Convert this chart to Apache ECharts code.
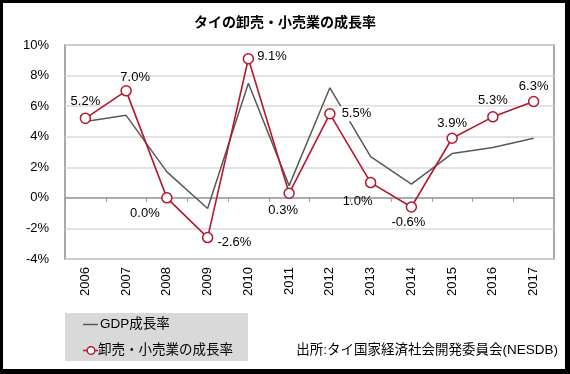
<!DOCTYPE html>
<html>
<head>
<meta charset="utf-8">
<script src="https://cdn.jsdelivr.net/npm/echarts@6/dist/echarts.min.js"></script>
<style>
html,body{margin:0;padding:0;background:#fff;}
#wrap{position:relative;width:570px;height:374px;}
#chart{position:absolute;left:0;top:0;width:570px;height:374px;}
#frame{position:absolute;left:0;top:0;width:570px;height:374px;box-sizing:border-box;border-style:solid;border-color:#000;border-width:3px 5px 5px 3px;pointer-events:none;}
</style>
</head>
<body>
<div id="wrap"><div id="chart"></div><div id="frame"></div></div>
<script>
const years = ['2006','2007','2008','2009','2010','2011','2012','2013','2014','2015','2016','2017'];
const gdpGrowth = [5.0, 5.4, 1.7, -0.7, 7.5, 0.8, 7.2, 2.7, 0.9, 2.9, 3.3, 3.9];
const retailGrowth = [5.2, 7.0, 0.0, -2.6, 9.1, 0.3, 5.5, 1.0, -0.6, 3.9, 5.3, 6.3];
const yTicks = {min: -4, max: 10, step: 2};

const titleText = 'タイの卸売・小売業の成長率';
const gdpName = 'GDP成長率';
const retailName = '卸売・小売業の成長率';
const sourceText = '出所:タイ国家経済社会開発委員会(NESDB)';

const FONT = "'Liberation Sans', Arial, 'Noto Sans CJK JP', sans-serif";
const RED = '#b4182d';
const GREY = '#595959';

// label placement styles per point (styling only)
const labelStyles = [
  {position:'top', distance:5, offset:[0,0]},
  {position:'top', distance:1, offset:[9,0]},
  {position:'bottom', distance:3, offset:[-22,0]},
  {position:'right', distance:4, offset:[0,5]},
  {position:'right', distance:3, offset:[0,-2]},
  {position:'bottom', distance:5, offset:[-6,0]},
  {position:'right', distance:4, offset:[0,0], backgroundColor:'#fff', padding:[1,2,1,2]},
  {position:'bottom', distance:7, offset:[-13,0]},
  {position:'bottom', distance:3, offset:[-3,0]},
  {position:'top', distance:3, offset:[0,0]},
  {position:'top', distance:4, offset:[0,0]},
  {position:'top', distance:3, offset:[0,0]}
];

const retailData = retailGrowth.map((v, i) => ({
  value: v,
  label: Object.assign({}, labelStyles[i])
}));

const chart = echarts.init(document.getElementById('chart'), null, {renderer:'canvas'});
chart.setOption({
  animation: false,
  backgroundColor: '#fff',
  textStyle: {fontFamily: FONT},
  title: {
    text: titleText,
    left: 'center',
    top: 11,
    textStyle: {fontSize: 14, fontWeight: 'bold', color: '#000', fontFamily: FONT}
  },
  grid: {
    left: 65, top: 45, right: 16, bottom: 115,
    show: true, borderColor: '#a9a9a9', borderWidth: 2, backgroundColor: 'transparent'
  },
  xAxis: [
    {
      type: 'category',
      data: years,
      boundaryGap: true,
      axisLine: {onZero: true, lineStyle: {color: '#999', width: 1.5}},
      axisTick: {show: true, length: 4, lineStyle: {color: '#999'}},
      axisLabel: {show: false},
      splitLine: {show: false}
    },
    {
      type: 'category',
      data: years,
      position: 'bottom',
      boundaryGap: true,
      axisLine: {show: false, onZero: false},
      axisTick: {show: false},
      axisLabel: {rotate: 90, margin: 8, fontSize: 13, color: '#000', fontFamily: FONT},
      splitLine: {show: false}
    }
  ],
  yAxis: {
    type: 'value',
    min: yTicks.min, max: yTicks.max, interval: yTicks.step,
    axisLine: {show: false},
    axisTick: {show: false},
    axisLabel: {formatter: '{value}%', fontSize: 13, color: '#000', margin: 16, fontFamily: FONT},
    splitLine: {lineStyle: {color: '#d9d9d9', width: 1.5}}
  },
  series: [
    {
      name: gdpName,
      type: 'line',
      data: gdpGrowth,
      symbol: 'none',
      lineStyle: {color: GREY, width: 1.5},
      itemStyle: {color: GREY},
      z: 2
    },
    {
      name: retailName,
      type: 'line',
      data: retailData,
      symbol: 'circle',
      symbolSize: 10,
      lineStyle: {color: RED, width: 1.6},
      itemStyle: {color: '#fff', borderColor: RED, borderWidth: 1.5},
      label: {
        show: true,
        formatter: p => p.value.toFixed(1) + '%',
        fontSize: 13,
        color: '#000',
        fontFamily: FONT
      },
      z: 3
    }
  ],
  graphic: [
    {
      type: 'group',
      left: 65, top: 313,
      children: [
        {type: 'rect', shape: {x: 0, y: 0, width: 183, height: 48}, style: {fill: '#d9d9d9'}},
        {type: 'line', shape: {x1: 18, y1: 11.5, x2: 33, y2: 11.5}, style: {stroke: GREY, lineWidth: 1.5}},
        {type: 'text', x: 35, y: 11.5, style: {text: gdpName, fill: '#000', font: "13.5px " + FONT, textVerticalAlign: 'middle', verticalAlign: 'middle'}},
        {type: 'line', shape: {x1: 18, y1: 37.5, x2: 33, y2: 37.5}, style: {stroke: RED, lineWidth: 1.5}},
        {type: 'circle', shape: {cx: 26, cy: 37.5, r: 3.8}, style: {fill: '#fff', stroke: RED, lineWidth: 1.4}},
        {type: 'text', x: 33, y: 37.5, style: {text: retailName, fill: '#000', font: "13.5px " + FONT, textVerticalAlign: 'middle', verticalAlign: 'middle'}}
      ]
    },
    {
      type: 'text',
      right: 12, top: 344,
      style: {text: sourceText, fill: '#000', font: "13.5px " + FONT}
    }
  ]
});
</script>
</body>
</html>
